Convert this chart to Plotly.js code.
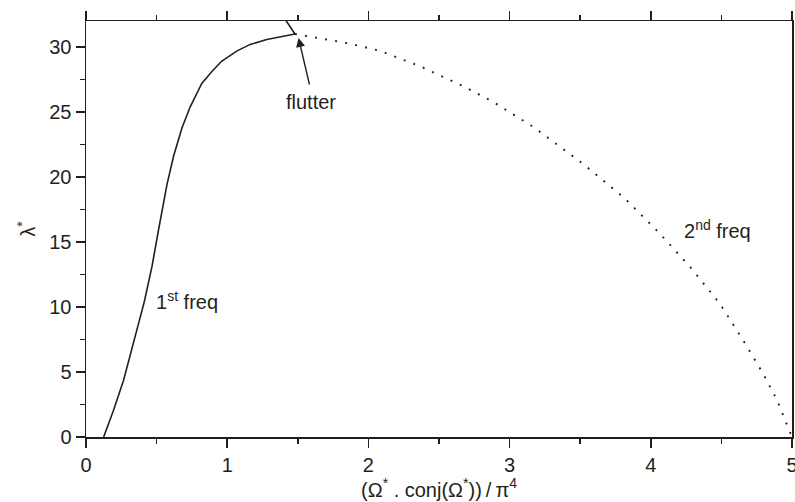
<!DOCTYPE html>
<html>
<head>
<meta charset="utf-8">
<script src="https://cdn.plot.ly/plotly-3.0.1.min.js"></script>
<style>html,body{margin:0;padding:0;background:#fff;}#chart{width:795px;height:502px;}</style>
</head>
<body>
<div id="chart"></div>
<script>
// 1st frequency branch (solid)
const freq1X = [0.125, 0.195, 0.266, 0.325, 0.372, 0.415, 0.467, 0.514, 0.542, 0.573, 0.62, 0.679, 0.738, 0.82, 0.89, 0.96, 1.07, 1.163, 1.28, 1.48, 1.40];
const freq1Y = [0.0, 2.05, 4.36, 6.67, 8.72, 10.5, 13.1, 15.95, 17.65, 19.4, 21.6, 23.75, 25.4, 27.2, 28.1, 28.9, 29.7, 30.2, 30.57, 31.0, 32.3];
// 2nd frequency branch (dotted)
const freq2X = [1.48, 1.87, 2.083, 2.378, 2.66, 2.885, 3.168, 3.238, 3.522, 3.817, 4.064, 4.289, 4.489, 4.654, 4.795, 4.895, 4.98, 5.0];
const freq2Y = [31.0, 30.26, 29.7, 28.46, 27.05, 25.77, 23.85, 23.3, 21.0, 18.34, 15.65, 12.95, 10.26, 7.44, 4.88, 2.82, 0.65, 0.0];
const xTickVals = [0, 1, 2, 3, 4, 5];
const yTickVals = [0, 5, 10, 15, 20, 25, 30];

const ink = '#231f20';
const fontFam = '"Liberation Sans", Arial, sans-serif';
const fs = 20;

const traces = [
  {x: freq1X, y: freq1Y, mode: 'lines', line: {color: ink, width: 1.6}, hoverinfo: 'skip'},
  {x: freq2X, y: freq2Y, mode: 'lines', line: {color: ink, width: 1.9, dash: '1.9px,8.3px'}, hoverinfo: 'skip'}
];

const axisCommon = {
  showgrid: false, zeroline: false, showline: true, linecolor: ink, linewidth: 1.5,
  ticks: 'outside', ticklen: 9, tickwidth: 1.5, tickcolor: ink,
  ticklabeloverflow: 'allow',
  tickfont: {family: fontFam, size: fs, color: ink}
};

const layout = {
  width: 795, height: 502,
  margin: {l: 86, r: 3, t: 21, b: 65},
  paper_bgcolor: '#fff', plot_bgcolor: '#fff',
  showlegend: false,
  font: {family: fontFam, color: ink, size: fs},
  xaxis: Object.assign({}, axisCommon, {
    range: [0, 5], tickvals: xTickVals, ticktext: xTickVals.map(String), mirror: 'ticks',
    minor: {dtick: 0.5, tick0: 0, ticklen: 5, tickwidth: 1.5, tickcolor: ink, ticks: 'outside', showgrid: false},
    title: {text: '(Ω<sup>*</sup> . conj(Ω<sup>*</sup>))\u2009/\u2009π<sup>4</sup>', font: {family: fontFam, size: fs, color: ink}, standoff: 4}
  }),
  yaxis: Object.assign({}, axisCommon, {
    range: [0, 32], tickvals: yTickVals, ticktext: yTickVals.map(String), mirror: true,
    minor: {dtick: 2.5, tick0: 0, ticklen: 5, tickwidth: 1.5, tickcolor: ink, ticks: 'outside', showgrid: false},
    title: {text: 'λ<sup>*</sup>', font: {family: fontFam, size: fs, color: ink}, standoff: 8}
  }),
  annotations: [
    {x: 1.505, y: 30.7, xref: 'x', yref: 'y', ax: 1.585, ay: 27.0, axref: 'x', ayref: 'y',
     text: '', showarrow: true, arrowhead: 2, arrowsize: 1.3, arrowwidth: 1.4, arrowcolor: ink},
    {x: 1.59, y: 25.8, xref: 'x', yref: 'y', text: 'flutter', showarrow: false,
     font: {family: fontFam, size: fs, color: ink}},
    {x: 0.717, y: 10.5, xref: 'x', yref: 'y', text: '1<sup>st</sup> freq', showarrow: false,
     font: {family: fontFam, size: fs, color: ink}},
    {x: 4.475, y: 16.0, xref: 'x', yref: 'y', text: '2<sup>nd</sup> freq', showarrow: false,
     font: {family: fontFam, size: fs, color: ink}}
  ]
};

Plotly.newPlot('chart', traces, layout, {staticPlot: true, displayModeBar: false});
</script>
</body>
</html>
